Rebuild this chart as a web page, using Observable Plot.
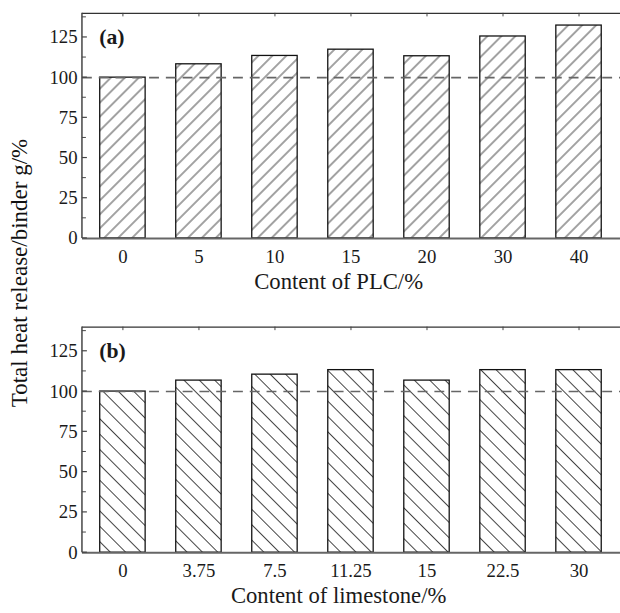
<!DOCTYPE html>
<html><head><meta charset="utf-8">
<script src="https://cdn.jsdelivr.net/npm/d3@7"></script>
<script src="https://cdn.jsdelivr.net/npm/@observablehq/plot@0.6"></script>
<style>
html,body{margin:0;padding:0;background:#fff;overflow:hidden;}
#wrap{position:relative;width:620px;height:613px;overflow:hidden;}
#wrap svg{display:block;overflow:visible;}
#ytitle{position:absolute;left:20px;top:273px;transform:translate(-50%,-50%) rotate(-90deg);font:23px "Liberation Serif",serif;white-space:nowrap;color:#111;}
</style></head><body>
<div id="wrap"><div id="top"></div><div id="bottom"></div><div id="ytitle">Total heat release/binder g/%</div></div>
<script>
const plcContent = ["0","5","10","15","20","30","40"];
const plcHeat = [100,108.3,113.5,117.4,113.3,125.6,132.4];
const limestoneContent = ["0","3.75","7.5","11.25","15","22.5","30"];
const limestoneHeat = [100,106.8,110.5,113.3,106.8,113.3,113.3];
const yTicks = [0,25,50,75,100,125];
const yMinorTicks = [12.5,37.5,62.5,87.5,112.5,137.5];
const referenceLevel = 100;
const yMax = 140;

function panel({cats, vals, letter, xTitle, patternId, angle, spacing, height, marginTop, marginBottom}) {
  const data = cats.map((c, i) => ({c, v: vals[i]}));
  const defs = () => {
    const d = d3.create("svg:defs");
    const p = d.append("pattern").attr("id", patternId)
      .attr("patternUnits", "userSpaceOnUse")
      .attr("width", spacing).attr("height", spacing)
      .attr("patternTransform", `rotate(${angle})`);
    p.append("rect").attr("width", spacing).attr("height", spacing).attr("fill", "#fff");
    p.append("line").attr("x1", spacing/2).attr("x2", spacing/2).attr("y1", -1).attr("y2", spacing+1)
      .attr("stroke", "#222").attr("stroke-width", 0.85);
    return d.node();
  };
  const frameAndTicks = (index, scales, values, dim) => {
    const g = d3.create("svg:g").attr("stroke", "#444").attr("fill", "none");
    const l = dim.marginLeft, t = dim.marginTop, b = dim.height - dim.marginBottom;
    g.append("line").attr("x1", l).attr("x2", l).attr("y1", t).attr("y2", b).attr("stroke-width", 1.5);
    for (const v of yTicks) g.append("line").attr("x1", l).attr("x2", l + 5).attr("y1", scales.y(v)).attr("y2", scales.y(v)).attr("stroke-width", 1.2);
    for (const v of yMinorTicks) g.append("line").attr("x1", l).attr("x2", l + 4).attr("y1", scales.y(v)).attr("y2", scales.y(v)).attr("stroke-width", 1.0);
    return g.node();
  };
  return Plot.plot({
    width: 628, height, marginLeft: 83, marginRight: 0, marginTop, marginBottom,
    style: {fontFamily: '"Liberation Serif", serif', fontSize: "19px", color: "#1a1a1a", background: "#fff"},
    x: {domain: cats, paddingInner: 0.4, paddingOuter: 0.2, label: null},
    y: {domain: [0, yMax], label: null},
    marks: [
      defs,
      Plot.barY(data, {x: "c", y: "v", fill: `url(#${patternId})`, stroke: "#111", strokeWidth: 1.3}),
      Plot.ruleY([referenceLevel], {stroke: "#666", strokeWidth: 1.6, strokeDasharray: "10,7"}),
      Plot.ruleY([0], {stroke: "#666", strokeWidth: 2}),
      Plot.ruleY([yMax], {stroke: "#333", strokeWidth: 1.2}),
      Plot.ruleX(cats, {x: d => d, y1: yMax, y2: yMax - 2.2, stroke: "#444", strokeWidth: 1}),
      frameAndTicks,
      Plot.axisY({ticks: yTicks, tickSize: 0, tickPadding: 5, fontSize: 19, label: null}),
      Plot.axisX({tickSize: 0, tickPadding: 11.5, fontSize: 19, label: null}),
      Plot.text([letter], {text: d => d, frameAnchor: "top-left", dx: 17, dy: 24, textAnchor: "start", lineAnchor: "middle", fontSize: 22, fontWeight: "bold", fill: "#1a1a1a"}),
      Plot.text([xTitle], {text: d => d, frameAnchor: "bottom", dx: -13, dy: 44, lineAnchor: "middle", fontSize: 23, fill: "#1a1a1a"})
    ]
  });
}

document.getElementById("top").append(panel({
  cats: plcContent, vals: plcHeat, letter: "(a)", xTitle: "Content of PLC/%",
  patternId: "hatchA", angle: 45, spacing: 10, height: 300, marginTop: 13, marginBottom: 59
}));
document.getElementById("bottom").append(panel({
  cats: limestoneContent, vals: limestoneHeat, letter: "(b)", xTitle: "Content of limestone/%",
  patternId: "hatchB", angle: -45, spacing: 11, height: 313, marginTop: 31, marginBottom: 53.5
}));
</script>
</body></html>
